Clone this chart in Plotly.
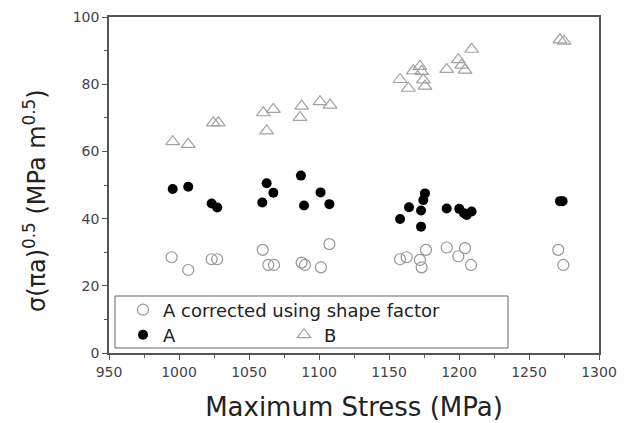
import plotly.graph_objects as go

# Data
x_corr = [994.7, 1006.6, 1023.3, 1027.3, 1059.8, 1063.8, 1067.9, 1087.6, 1090.0, 1101.4, 1107.4,
          1157.9, 1162.6, 1172.1, 1173.3, 1176.4, 1191.2, 1199.5, 1204.3, 1208.6, 1270.9, 1274.5]
y_corr = [28.5, 24.7, 27.9, 27.9, 30.7, 26.2, 26.2, 26.9, 26.2, 25.5, 32.4,
          27.9, 28.5, 27.7, 25.5, 30.7, 31.4, 28.8, 31.2, 26.2, 30.7, 26.2]

x_A = [995.5, 1006.6, 1023.3, 1027.3, 1059.5, 1062.6, 1067.4, 1087.1, 1089.3, 1101.1, 1107.4,
       1157.9, 1164.3, 1172.9, 1172.9, 1174.5, 1175.7, 1191.2, 1200.2, 1203.6, 1205.5, 1209.0,
       1272.1, 1274.0]
y_A = [48.8, 49.5, 44.5, 43.3, 44.8, 50.5, 47.7, 52.8, 43.9, 47.8, 44.3,
       39.9, 43.4, 42.4, 37.6, 45.5, 47.5, 43.0, 42.9, 41.6, 41.1, 42.1,
       45.2, 45.2]

x_B = [995.5, 1006.6, 1024.5, 1028.1, 1060.2, 1062.6, 1067.4, 1086.4, 1087.6, 1100.7, 1107.9,
       1157.9, 1163.8, 1167.4, 1172.1, 1173.3, 1174.5, 1175.7, 1191.2, 1199.5, 1201.9, 1204.3,
       1209.0, 1272.1, 1275.0]
y_B = [62.9, 62.1, 68.5, 68.5, 71.5, 66.1, 72.5, 70.1, 73.5, 74.8, 73.8,
       81.4, 78.8, 84.0, 85.3, 83.8, 81.3, 79.4, 84.4, 87.3, 85.7, 84.2,
       90.4, 93.2, 92.8]

names = ["A corrected using shape factor", "A", "B"]
x_ticks = [950, 1000, 1050, 1100, 1150, 1200, 1250, 1300]
y_ticks = [0, 20, 40, 60, 80, 100]
x_title = "Maximum Stress (MPa)"
y_title = "σ(πa)<sup>0.5</sup> (MPa m<sup>0.5</sup>)"

FONT = "DejaVu Sans, sans-serif"

fig = go.Figure()
fig.add_trace(go.Scatter(
    x=x_corr, y=y_corr, mode="markers", name=names[0], legend="legend",
    marker=dict(symbol="circle-open", size=11, color="#959595", line=dict(width=1.2, color="#959595"))))
fig.add_trace(go.Scatter(
    x=x_A, y=y_A, mode="markers", name=names[1], legend="legend2",
    marker=dict(symbol="circle", size=10, color="#000000")))
fig.add_trace(go.Scatter(
    x=x_B, y=y_B, mode="markers", name=names[2], legend="legend2",
    marker=dict(symbol="triangle-up-open", size=12, color="#a2a2a2", line=dict(width=1.2, color="#a2a2a2"))))

W, H = 624, 423
L, R, T, B = 109, 25, 17, 70
pw, ph = W - L - R, H - T - B

def px_x(p):
    return (p - L) / pw

def px_y(p):
    return (H - B - p) / ph

axis_common = dict(
    showline=True, linecolor="#555555", linewidth=1.5, mirror=True,
    ticks="outside", ticklen=5, tickwidth=1, tickcolor="#555555",
    showgrid=False, zeroline=False,
    tickfont=dict(family=FONT, size=14, color="#444444"),
)

fig.update_xaxes(
    range=[950, 1300], tickvals=x_ticks, ticktext=[str(v) for v in x_ticks],
    minor=dict(dtick=25, ticklen=3, tickcolor="#555555", ticks="outside"),
    title=dict(text=x_title, font=dict(family=FONT, size=26, color="#222222"), standoff=19),
    automargin=False, **axis_common)
fig.update_yaxes(
    range=[0, 100], tickvals=y_ticks, ticktext=[str(v) for v in y_ticks],
    minor=dict(dtick=10, ticklen=3, tickcolor="#555555", ticks="outside"),
    automargin=False, **axis_common)

fig.update_layout(
    width=W, height=H,
    margin=dict(l=L, r=R, t=T, b=B, autoexpand=False),
    paper_bgcolor="white", plot_bgcolor="white",
    font=dict(family=FONT, color="#222222"),
    legend=dict(x=px_x(123), y=px_y(310), xanchor="left", yanchor="middle",
                bgcolor="rgba(0,0,0,0)", borderwidth=0,
                font=dict(family=FONT, size=18, color="#222222")),
    legend2=dict(x=px_x(123), y=px_y(335), xanchor="left", yanchor="middle",
                 orientation="h", entrywidth=116, entrywidthmode="pixels",
                 bgcolor="rgba(0,0,0,0)", borderwidth=0,
                 font=dict(family=FONT, size=18, color="#222222")),
    shapes=[dict(type="rect", xref="paper", yref="paper",
                 x0=px_x(115), x1=px_x(508), y0=px_y(348), y1=px_y(296),
                 line=dict(color="#666666", width=1), fillcolor="rgba(0,0,0,0)")],
    annotations=[dict(text=y_title, textangle=-90, xref="paper", yref="paper",
                      x=px_x(35), y=px_y(201), xanchor="center", yanchor="middle",
                      showarrow=False, font=dict(family=FONT, size=24, color="#222222"))],
    showlegend=True,
)

fig.write_html("out.html", config={"displayModeBar": False},
               post_script="document.body.style.margin='0';document.body.style.overflow='hidden';")
